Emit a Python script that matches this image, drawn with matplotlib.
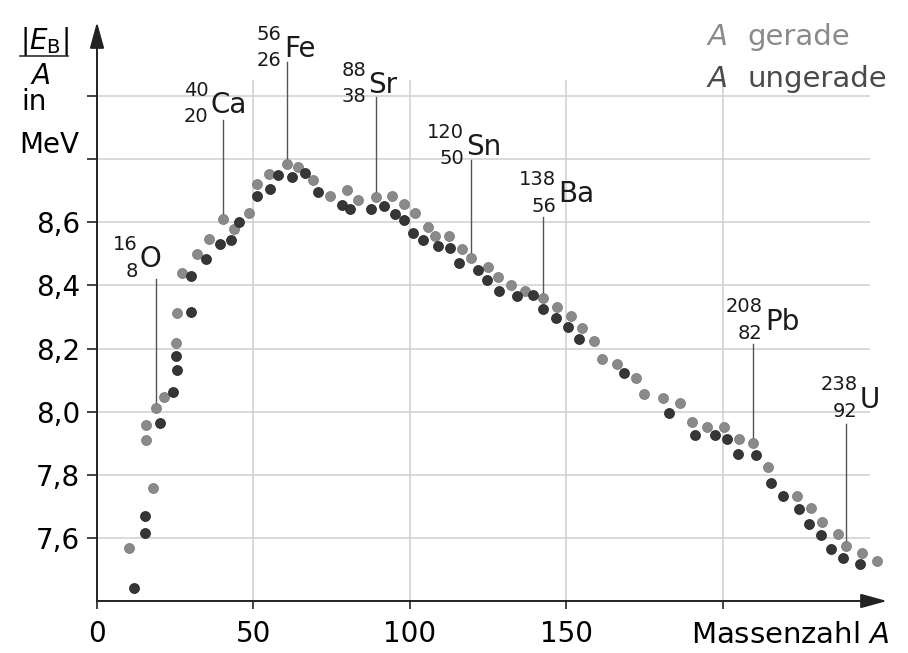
import numpy as np
import matplotlib.pyplot as plt
from matplotlib.lines import Line2D

# Binding energy per nucleon
# even mass numbers (light dots)
a_even = [10.1, 15.8, 15.8, 17.8, 19.0, 21.5, 25.2, 25.5, 27.1, 32.0,
          35.9, 40.3, 43.8, 48.5, 51.2, 54.9, 60.6, 64.2, 69.1, 74.4,
          79.8, 83.5, 89.1, 94.2, 98.1, 101.6, 105.9, 108.0, 112.6, 116.5,
          119.4, 125.0, 128.2, 132.2, 136.7, 142.6, 147.1, 151.3, 154.9, 158.8,
          161.2, 166.0, 172.2, 174.8, 180.9, 186.3, 190.0, 195.0, 200.4, 205.1,
          209.7, 214.3, 223.5, 228.1, 231.5, 236.8, 239.2, 244.3, 249.1]
e_even = [7.569, 7.909, 7.958, 7.758, 8.013, 8.048, 8.217, 8.313, 8.439, 8.500,
          8.547, 8.610, 8.579, 8.631, 8.720, 8.753, 8.786, 8.774, 8.733, 8.685,
          8.702, 8.670, 8.680, 8.683, 8.657, 8.630, 8.585, 8.556, 8.556, 8.515,
          8.487, 8.458, 8.426, 8.400, 8.384, 8.360, 8.333, 8.302, 8.264, 8.223,
          8.167, 8.151, 8.106, 8.056, 8.042, 8.028, 7.968, 7.952, 7.950, 7.913,
          7.900, 7.825, 7.733, 7.694, 7.649, 7.612, 7.575, 7.553, 7.527]

# odd mass numbers (dark dots)
a_odd = [11.9, 15.3, 15.3, 20.1, 24.4, 25.6, 25.2, 30.0, 29.9, 34.8,
         39.2, 42.9, 45.5, 51.0, 55.3, 57.7, 62.2, 66.5, 70.7, 78.2,
         80.8, 87.4, 91.7, 95.2, 98.2, 101.0, 104.3, 109.0, 112.8, 115.7,
         121.6, 124.5, 128.5, 134.1, 139.4, 142.4, 146.6, 150.6, 154.1, 168.5,
         182.7, 191.1, 197.4, 201.2, 204.7, 210.5, 215.2, 219.3, 224.3, 227.5,
         231.2, 234.5, 238.4, 243.8]
e_odd = [7.440, 7.616, 7.669, 7.963, 8.061, 8.131, 8.178, 8.317, 8.431, 8.483,
         8.532, 8.545, 8.601, 8.685, 8.706, 8.750, 8.744, 8.755, 8.696, 8.656,
         8.643, 8.643, 8.651, 8.628, 8.609, 8.567, 8.545, 8.524, 8.518, 8.471,
         8.450, 8.418, 8.384, 8.366, 8.370, 8.326, 8.297, 8.268, 8.231, 8.122,
         7.995, 7.926, 7.926, 7.915, 7.866, 7.863, 7.775, 7.733, 7.693, 7.643,
         7.609, 7.566, 7.536, 7.518]

# labelled nuclides: symbol, mass number, proton number, index in the even list
symbols = ['O', 'Ca', 'Fe', 'Sr', 'Sn', 'Ba', 'Pb', 'U']
mass_nums = ['16', '40', '56', '88', '120', '138', '208', '238']
proton_nums = ['8', '20', '26', '38', '50', '56', '82', '92']
point_idx = [4, 11, 16, 22, 30, 35, 50, 56]

y_ticks = [7.6, 7.8, 8.0, 8.2, 8.4, 8.6, 8.8, 9.0]
y_ticklabels = ['7,6', '7,8', '8,0', '8,2', '8,4', '8,6', '', '']
x_ticks = [0, 50, 100, 150, 200]
x_ticklabels = ['0', '50', '100', '150', '']

light = '#8a8a8a'
dark = '#363636'
W, H = 908, 653

fig = plt.figure(figsize=(W / 100, H / 100), dpi=100)
ax = fig.add_axes([97 / W, 1 - 601 / H, (887 - 97) / W, (601 - 22) / H])
ax.set_xlim(0, 252.4)
ax.set_ylim(7.4, 9.235)
for s in ax.spines.values():
    s.set_visible(False)

# grid (does not run all the way to the arrows)
ax.hlines(y_ticks, 0, 247, color='#cfcfcf', lw=1.1, zorder=0)
ax.vlines(x_ticks[1:], 7.4, 9.05, color='#cfcfcf', lw=1.1, zorder=0)

# axes with arrow heads
arrow = dict(arrowstyle='-|>,head_length=0.8,head_width=0.22', color='#222222',
             lw=1.4, mutation_scale=20, shrinkA=0, shrinkB=0)
ax.annotate('', xy=(1, 0), xytext=(0, 0), xycoords='axes fraction', arrowprops=arrow)
ax.annotate('', xy=(0, 1), xytext=(0, 0), xycoords='axes fraction', arrowprops=arrow)

ax.set_yticks(y_ticks)
ax.set_yticklabels(y_ticklabels, fontsize=20)
ax.set_xticks(x_ticks)
ax.set_xticklabels(x_ticklabels, fontsize=20)
ax.tick_params(axis='y', direction='out', length=7, width=1.2, color='#222222', pad=5)
ax.tick_params(axis='x', direction='out', length=6, width=1.2, color='#222222', pad=8)

ax.scatter(a_even, e_even, s=52, color=light, edgecolors='#777777', linewidths=0.5, zorder=3)
ax.scatter(a_odd, e_odd, s=52, color=dark, edgecolors='#222222', linewidths=0.5, zorder=4)

# isotope labels: symbol position (left, baseline) and top of the leader line
label_pos = [(13.7, 8.457, 8.422), (36.3, 8.946, 8.924), (59.7, 9.124, 9.108),
             (86.6, 9.010, 8.997), (117.9, 8.813, 8.797), (147.3, 8.663, 8.616),
             (213.4, 8.260, 8.216), (243.8, 8.013, 7.962)]
for sym, m, z, i, (lx, ly, top) in zip(symbols, mass_nums, proton_nums, point_idx, label_pos):
    ax.text(lx, ly, sym, fontsize=20, ha='left', va='baseline', color='#1a1a1a')
    ax.annotate(m, (lx, ly), xytext=(-1.5, 12.5), textcoords='offset points',
                ha='right', va='baseline', fontsize=14, color='#1a1a1a')
    ax.annotate(z, (lx, ly), xytext=(-1.5, -6.5), textcoords='offset points',
                ha='right', va='baseline', fontsize=14, color='#1a1a1a')
    ax.plot([a_even[i], a_even[i]], [e_even[i] + 0.012, top], color='#555555', lw=1.0, zorder=2)

# y axis label, written as a fraction
fig.text(20 / W, 1 - 41 / H, r'$|E_\mathrm{B}|$', fontsize=20, ha='left', va='center')
fig.add_artist(Line2D([20 / W, 68 / W], [1 - 56 / H, 1 - 56 / H], color='#1a1a1a', lw=1.1))
fig.text(40 / W, 1 - 76 / H, r'$A$', fontsize=20, ha='center', va='center')
fig.text(21 / W, 1 - 110 / H, 'in', fontsize=20, ha='left', va='baseline')
fig.text(19 / W, 1 - 153 / H, 'MeV', fontsize=20, ha='left', va='baseline')

# x axis label
fig.text(890 / W, 1 - 643 / H, r'Massenzahl $A$', fontsize=21, ha='right', va='baseline')

# legend as coloured text
fig.text(706 / W, 1 - 45 / H, r'$A$', fontsize=21, color=light, ha='left', va='baseline')
fig.text(747 / W, 1 - 45 / H, 'gerade', fontsize=21, color=light, ha='left', va='baseline')
fig.text(706 / W, 1 - 87 / H, r'$A$', fontsize=21, color='#4a4a4a', ha='left', va='baseline')
fig.text(747 / W, 1 - 87 / H, 'ungerade', fontsize=21, color='#4a4a4a', ha='left', va='baseline')

fig.savefig('out.png', dpi=100)
